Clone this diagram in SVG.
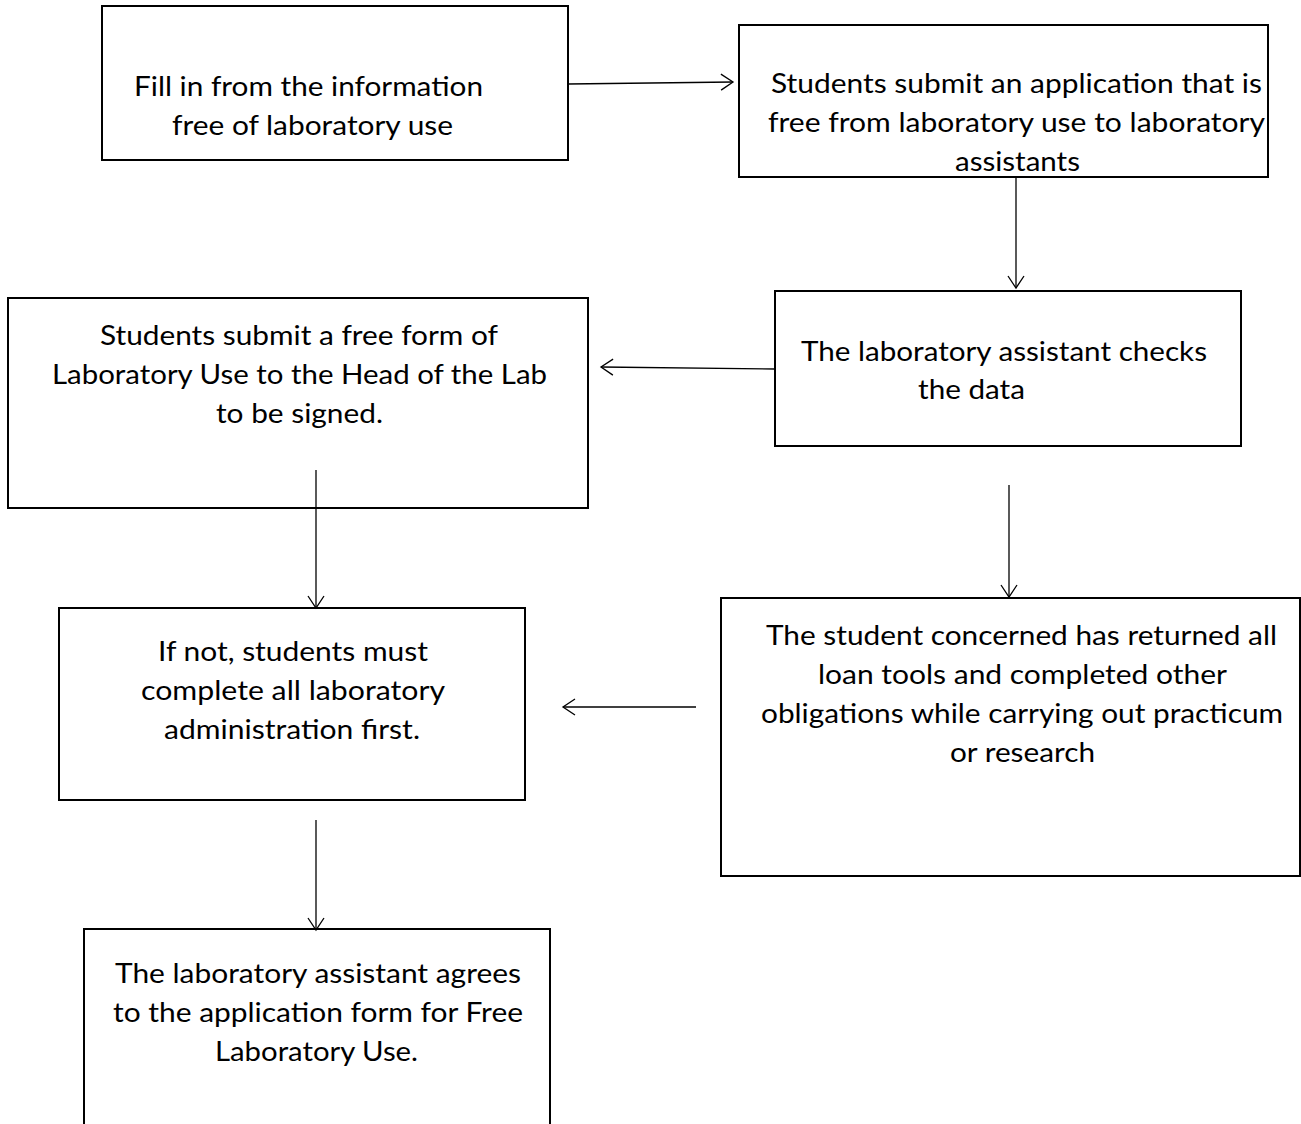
<svg xmlns="http://www.w3.org/2000/svg" width="1301" height="1124" viewBox="0 0 1301 1124">
<style>
.box{fill:#fff;stroke:#000;stroke-width:2}
.lbl{font-family:Lato,"Open Sans","Liberation Sans",sans-serif;font-size:27px;fill:#000}
.con{stroke:#000;stroke-width:1.3;fill:none}
</style>
<defs>
<marker id="arr" markerUnits="userSpaceOnUse" markerWidth="16" markerHeight="18" refX="13" refY="8" orient="auto" overflow="visible">
<path d="M1,0 L13,8 L1,16" fill="none" stroke="#000" stroke-width="1.3"/>
</marker>
</defs>
<rect width="1301" height="1124" fill="#fff"/>
<g id="n1">
<rect class="box" x="102" y="6" width="466" height="154"/>
<text class="lbl" x="134" y="96" textLength="349" lengthAdjust="spacingAndGlyphs">Fill in from the information</text>
<text class="lbl" x="172" y="135" textLength="281" lengthAdjust="spacingAndGlyphs">free of laboratory use</text>
</g>
<g id="n2">
<rect class="box" x="739" y="25" width="529" height="152"/>
<text class="lbl" x="771" y="93" textLength="491" lengthAdjust="spacingAndGlyphs">Students submit an application that is</text>
<text class="lbl" x="768" y="132" textLength="497" lengthAdjust="spacingAndGlyphs">free from laboratory use to laboratory</text>
<text class="lbl" x="955" y="171" textLength="125" lengthAdjust="spacingAndGlyphs">assistants</text>
</g>
<g id="n3">
<rect class="box" x="775" y="291" width="466" height="155"/>
<text class="lbl" x="801" y="361" textLength="406" lengthAdjust="spacingAndGlyphs">The laboratory assistant checks</text>
<text class="lbl" x="918" y="399" textLength="107" lengthAdjust="spacingAndGlyphs">the data</text>
</g>
<g id="n4">
<rect class="box" x="8" y="298" width="580" height="210"/>
<text class="lbl" x="100" y="345" textLength="398" lengthAdjust="spacingAndGlyphs">Students submit a free form of</text>
<text class="lbl" x="52" y="384" textLength="495" lengthAdjust="spacingAndGlyphs">Laboratory Use to the Head of the Lab</text>
<text class="lbl" x="216" y="423" textLength="167" lengthAdjust="spacingAndGlyphs">to be signed.</text>
</g>
<g id="n5">
<rect class="box" x="59" y="608" width="466" height="192"/>
<text class="lbl" x="158" y="661" textLength="270" lengthAdjust="spacingAndGlyphs">If not, students must</text>
<text class="lbl" x="141" y="700" textLength="304" lengthAdjust="spacingAndGlyphs">complete all laboratory</text>
<text class="lbl" x="164" y="739" textLength="256" lengthAdjust="spacingAndGlyphs">administration first.</text>
</g>
<g id="n6">
<rect class="box" x="721" y="598" width="579" height="278"/>
<text class="lbl" x="766" y="645" textLength="511" lengthAdjust="spacingAndGlyphs">The student concerned has returned all</text>
<text class="lbl" x="818" y="684" textLength="409" lengthAdjust="spacingAndGlyphs">loan tools and completed other</text>
<text class="lbl" x="761" y="723" textLength="522" lengthAdjust="spacingAndGlyphs">obligations while carrying out practicum</text>
<text class="lbl" x="950" y="762" textLength="145" lengthAdjust="spacingAndGlyphs">or research</text>
</g>
<g id="n7">
<rect class="box" x="84" y="929" width="466" height="210"/>
<text class="lbl" x="115" y="983" textLength="406" lengthAdjust="spacingAndGlyphs">The laboratory assistant agrees</text>
<text class="lbl" x="113" y="1022" textLength="410" lengthAdjust="spacingAndGlyphs">to the application form for Free</text>
<text class="lbl" x="215" y="1061" textLength="203" lengthAdjust="spacingAndGlyphs">Laboratory Use.</text>
</g>
<g id="connectors">
<line class="con" x1="568" y1="84" x2="733" y2="82" marker-end="url(#arr)"/>
<line class="con" x1="1016" y1="177" x2="1016" y2="288" marker-end="url(#arr)"/>
<line class="con" x1="775" y1="369" x2="601" y2="367" marker-end="url(#arr)"/>
<line class="con" x1="316" y1="470" x2="316" y2="608" marker-end="url(#arr)"/>
<line class="con" x1="696" y1="707" x2="563" y2="707" marker-end="url(#arr)"/>
<line class="con" x1="1009" y1="485" x2="1009" y2="597" marker-end="url(#arr)"/>
<line class="con" x1="316" y1="820" x2="316" y2="930" marker-end="url(#arr)"/>
</g>
</svg>
